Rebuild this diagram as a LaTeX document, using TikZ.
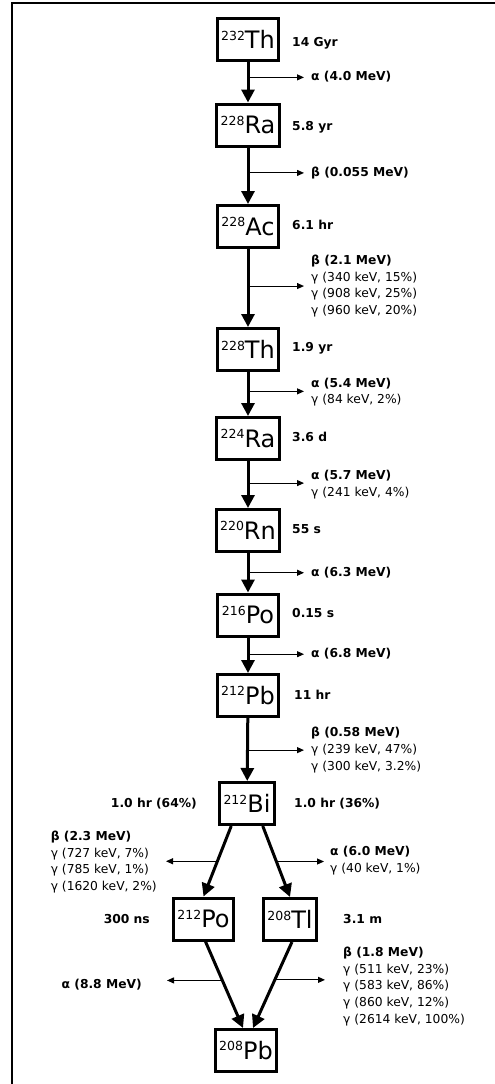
\documentclass[tikz,border=0pt]{standalone}
\usepackage{fontspec}
\setmainfont{DejaVu Sans}
\usetikzlibrary{arrows.meta}

\newcommand{\nuc}[2]{\raisebox{8.6pt}{\fontsize{12.5}{12.5}\selectfont #1}#2}

\tikzset{
    nuclide/.style={draw,line width=3pt,minimum height=42pt,inner xsep=4pt,font=\fontsize{24}{28}\selectfont},
    decay/.style={-{Triangle[length=13pt,width=13pt]},line width=3pt},
    branch/.style={-{Triangle[length=7pt,width=6pt]},line width=1pt,shorten >=7pt},
    life/.style={anchor=west,inner sep=0pt,font=\bfseries\fontsize{12.3}{16.6}\selectfont},
    emit/.style={anchor=west,inner sep=0pt,align=left,font=\fontsize{12.3}{16.6}\selectfont},
}

\begin{document}
\begin{tikzpicture}[x=1pt,y=-1pt]
        \useasboundingbox (0,0) rectangle (495,1084);
        \draw[line width=2pt] (12,1084) -- (12,3) -- (495,3);

        \node[nuclide] at (248,39.5) (th232){\nuc{232}{Th}};
        \node[nuclide] at (248,125) (ra228){\nuc{228}{Ra}};
        \node[nuclide] at (248,226.5) (ac228){\nuc{228}{Ac}};
        \node[nuclide] at (248,349.5) (th228){\nuc{228}{Th}};
        \node[nuclide] at (248,438.5) (ra224){\nuc{224}{Ra}};
        \node[nuclide] at (248,530.5) (rn220){\nuc{220}{Rn}};
        \node[nuclide] at (248,615) (po216){\nuc{216}{Po}};
        \node[nuclide] at (248,695.5) (pb212){\nuc{212}{Pb}};
        \node[nuclide] at (247,803.5) (bi212){\nuc{212}{Bi}};
        \node[nuclide] at (203.5,919) (po212){\nuc{212}{Po}};
        \node[nuclide] at (290,919.5) (tl208){\nuc{208}{Tl}};
        \node[nuclide] at (246,1050.5) (pb208){\nuc{208}{Pb}};

        \node[life] at (292,43) (h1){14 Gyr};
        \node[life] at (292,127) (h2){5.8 yr};
        \node[life] at (292,225) (h3){6.1 hr};
        \node[life] at (292,348) (h4){1.9 yr};
        \node[life] at (292,437) (h5){3.6 d};
        \node[life] at (292,529) (h6){55 s};
        \node[life] at (292,613) (h7){0.15 s};
        \node[life] at (294,695) (h8){11 hr};
        \node[life,anchor=east] at (197,804) (h9){1.0 hr (64\%)};
        \node[life] at (294,804) (h10){1.0 hr (36\%)};
        \node[life,anchor=east] at (150,919) (h11){300 ns};
        \node[life] at (343,919) (h12){3.1 m};

        \node[emit] at (311,77) (a1){\textbf{α (4.0 MeV)}};
        \node[emit] at (311,173) (a2){\textbf{β (0.055 MeV)}};
        \node[emit] at (311,286) (a3){\textbf{β (2.1 MeV)}\\γ (340 keV, 15\%)\\γ (908 keV, 25\%)\\γ (960 keV, 20\%)};
        \node[emit] at (311,392) (a4){\textbf{α (5.4 MeV)}\\γ (84 keV, 2\%)};
        \node[emit] at (311,484.5) (a5){\textbf{α (5.7 MeV)}\\γ (241 keV, 4\%)};
        \node[emit] at (311,573) (a6){\textbf{α (6.3 MeV)}};
        \node[emit] at (311,654) (a7){\textbf{α (6.8 MeV)}};
        \node[emit] at (311,750) (a8){\textbf{β (0.58 MeV)}\\γ (239 keV, 47\%)\\γ (300 keV, 3.2\%)};
        \node[emit,anchor=east] at (157,862) (a9){\textbf{β (2.3 MeV)}\\γ (727 keV, 7\%)\\γ (785 keV, 1\%)\\γ (1620 keV, 2\%)};
        \node[emit] at (330,860.5) (a10){\textbf{α (6.0 MeV)}\\γ (40 keV, 1\%)};
        \node[emit,anchor=east] at (142,985) (a11){\textbf{α (8.8 MeV)}};
        \node[emit] at (343,986.5) (a12){\textbf{β (1.8 MeV)}\\γ (511 keV, 23\%)\\γ (583 keV, 86\%)\\γ (860 keV, 12\%)\\γ (2614 keV, 100\%)};

        \draw[decay] (th232) -- coordinate[pos=0.38] (b1) (ra228); %Th-Ra
        \draw[decay] (ra228) -- coordinate[pos=0.45] (b2) (ac228); %Ra-Ac
        \draw[decay] (ac228) -- coordinate[pos=0.475] (b3) (th228); %Ac-Th
        \draw[decay] (th228) -- coordinate[pos=0.44] (b4) (ra224); %Th-Ra
        \draw[decay] (ra224) -- coordinate[pos=0.47] (b5) (rn220); %Ra-Rn
        \draw[decay] (rn220) -- coordinate[pos=0.5] (b6) (po216); %Rn-Po
        \draw[decay] (po216) -- coordinate[pos=0.47] (b7) (pb212); %Po-Pb
        \draw[decay] (pb212) -- coordinate[pos=0.51] (b8) (bi212); %Pb-Bi
        \draw[decay] (bi212.235) -- coordinate[pos=0.5] (b9) (po212.north); %Bi-Po
        \draw[decay] (bi212.305) -- coordinate[pos=0.5] (b10) (tl208.north); %Bi-Tl
        \draw[decay] (po212.-85) -- coordinate[pos=0.45] (b11) ([xshift=-3pt]pb208.north); %Po-Pb
        \draw[decay] (tl208.-85) -- coordinate[pos=0.44] (b12) ([xshift=7pt]pb208.north); %Tl-Pb

        \draw[branch] (b1) -- (b1 -| a1.west);
        \draw[branch] (b2) -- (b2 -| a2.west);
        \draw[branch] (b3) -- (b3 -| a3.west);
        \draw[branch] (b4) -- (b4 -| a4.west);
        \draw[branch] (b5) -- (b5 -| a5.west);
        \draw[branch] (b6) -- (b6 -| a6.west);
        \draw[branch] (b7) -- (b7 -| a7.west);
        \draw[branch] (b8) -- (b8 -| a8.west);
        \draw[branch,shorten >=9pt] (b9) -- (b9 -| a9.east);
        \draw[branch,shorten >=6pt] (b10) -- (b10 -| a10.west);
        \draw[branch,shorten >=25pt] (b11) -- (b11 -| a11.east);
        \draw[branch,shorten >=18pt] (b12) -- (b12 -| a12.west);
    \end{tikzpicture}
\end{document}
